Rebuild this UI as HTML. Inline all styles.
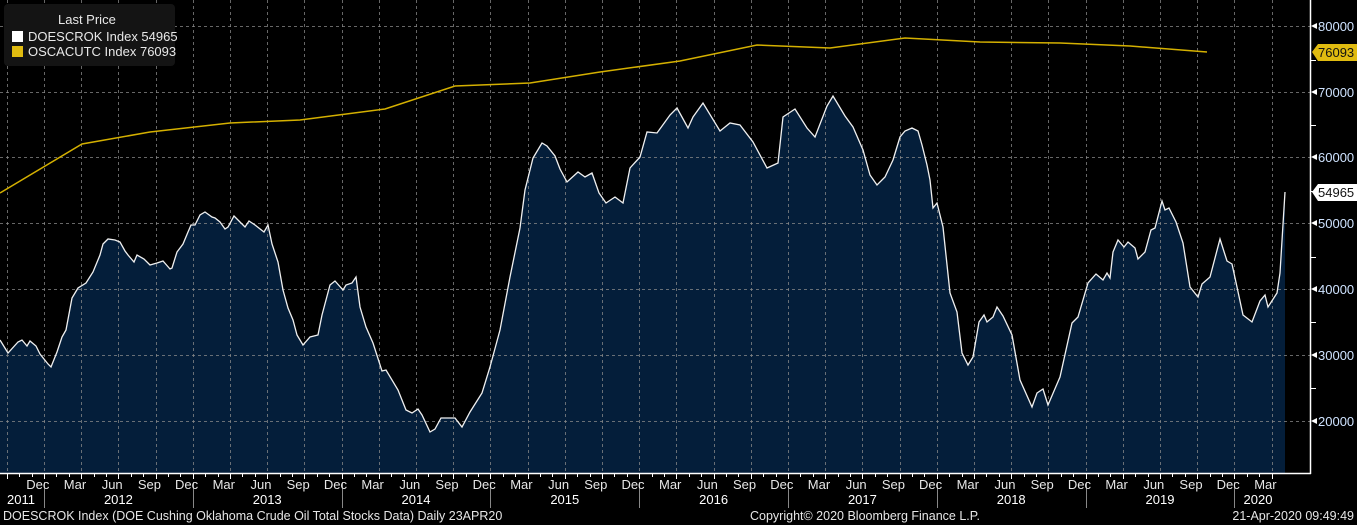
<!DOCTYPE html>
<html><head><meta charset="utf-8"><style>
html,body{margin:0;padding:0;background:#000;}
svg{display:block;font-family:"Liberation Sans",sans-serif;}
</style></head><body>
<svg width="1357" height="525" viewBox="0 0 1357 525" xmlns="http://www.w3.org/2000/svg">
<rect width="1357" height="525" fill="#000"/>
<!-- area -->
<path fill="#041e3a" d="M0,473 L0,340 L8,353 L18,342 L22,340 L27,346 L30,341 L36,346 L40,354 L48,364 L51,367 L57,352 L62,337 L66,330 L72,298 L78,288 L86,283 L93,272 L100,255 L103,244 L108,239 L115,240 L120,242 L125,251 L128,255 L134,262 L137,255 L144,259 L150,265 L157,263 L163,261 L170,269 L172,268 L177,252 L183,244 L188,232 L191,225 L195,225 L200,215 L205,212 L212,217 L215,218 L220,222 L225,229 L228,227 L234,216 L240,222 L245,227 L249,221 L255,225 L264,232 L268,225 L272,244 L278,262 L283,290 L288,308 L293,320 L297,335 L303,345 L310,337 L318,335 L322,315 L330,285 L335,281 L343,290 L346,285 L352,283 L356,277 L360,307 L366,327 L373,343 L382,371 L386,370 L398,390 L406,410 L412,413 L418,409 L422,415 L430,432 L435,429 L441,418 L455,418 L462,427 L470,412 L482,393 L490,367 L500,330 L510,277 L520,228 L525,190 L533,158 L542,143 L547,146 L555,156 L560,169 L567,182 L578,172 L585,177 L592,173 L599,193 L606,203 L615,197 L623,203 L630,168 L640,157 L647,132 L657,133 L670,115 L677,108 L688,128 L693,117 L703,103 L720,131 L730,123 L740,125 L753,142 L767,168 L778,163 L783,117 L795,109 L807,128 L815,137 L827,106 L833,96 L845,116 L853,127 L863,150 L870,175 L877,185 L885,177 L893,160 L900,137 L905,131 L912,128 L918,131 L922,145 L927,165 L930,180 L933,208 L937,203 L943,227 L950,293 L957,312 L962,353 L968,365 L973,357 L979,322 L984,315 L987,322 L993,317 L997,307 L1003,316 L1012,335 L1020,380 L1032,407 L1037,393 L1043,389 L1048,405 L1060,377 L1072,323 L1078,317 L1088,283 L1096,274 L1103,280 L1107,273 L1110,278 L1113,252 L1118,240 L1124,247 L1128,242 L1135,248 L1138,259 L1145,252 L1151,230 L1155,228 L1162,201 L1165,210 L1169,208 L1176,222 L1183,243 L1190,287 L1198,297 L1202,284 L1210,277 L1220,239 L1227,261 L1232,264 L1237,287 L1243,315 L1252,322 L1260,301 L1265,295 L1268,307 L1277,293 L1280,273 L1285,192 L1285,473 Z"/>
<!-- grid -->
<g stroke="#8a8a8a" stroke-width="1" stroke-dasharray="3,3" opacity="0.75">
<line x1="0" y1="26.5" x2="1310" y2="26.5"/><line x1="0" y1="92.5" x2="1310" y2="92.5"/>
<line x1="0" y1="157.5" x2="1310" y2="157.5"/><line x1="0" y1="223.5" x2="1310" y2="223.5"/>
<line x1="0" y1="289.5" x2="1310" y2="289.5"/><line x1="0" y1="355.5" x2="1310" y2="355.5"/>
<line x1="0" y1="421.5" x2="1310" y2="421.5"/>
</g>
<g id="vg" stroke="#8a8a8a" stroke-width="1" stroke-dasharray="3,3" opacity="0.75"></g>
<!-- series line -->
<polyline fill="none" stroke="#f0f0f0" stroke-width="1.3" points="0,340 8,353 18,342 22,340 27,346 30,341 36,346 40,354 48,364 51,367 57,352 62,337 66,330 72,298 78,288 86,283 93,272 100,255 103,244 108,239 115,240 120,242 125,251 128,255 134,262 137,255 144,259 150,265 157,263 163,261 170,269 172,268 177,252 183,244 188,232 191,225 195,225 200,215 205,212 212,217 215,218 220,222 225,229 228,227 234,216 240,222 245,227 249,221 255,225 264,232 268,225 272,244 278,262 283,290 288,308 293,320 297,335 303,345 310,337 318,335 322,315 330,285 335,281 343,290 346,285 352,283 356,277 360,307 366,327 373,343 382,371 386,370 398,390 406,410 412,413 418,409 422,415 430,432 435,429 441,418 455,418 462,427 470,412 482,393 490,367 500,330 510,277 520,228 525,190 533,158 542,143 547,146 555,156 560,169 567,182 578,172 585,177 592,173 599,193 606,203 615,197 623,203 630,168 640,157 647,132 657,133 670,115 677,108 688,128 693,117 703,103 720,131 730,123 740,125 753,142 767,168 778,163 783,117 795,109 807,128 815,137 827,106 833,96 845,116 853,127 863,150 870,175 877,185 885,177 893,160 900,137 905,131 912,128 918,131 922,145 927,165 930,180 933,208 937,203 943,227 950,293 957,312 962,353 968,365 973,357 979,322 984,315 987,322 993,317 997,307 1003,316 1012,335 1020,380 1032,407 1037,393 1043,389 1048,405 1060,377 1072,323 1078,317 1088,283 1096,274 1103,280 1107,273 1110,278 1113,252 1118,240 1124,247 1128,242 1135,248 1138,259 1145,252 1151,230 1155,228 1162,201 1165,210 1169,208 1176,222 1183,243 1190,287 1198,297 1202,284 1210,277 1220,239 1227,261 1232,264 1237,287 1243,315 1252,322 1260,301 1265,295 1268,307 1277,293 1280,273 1285,192"/>
<polyline fill="none" stroke="#d4b000" stroke-width="1.5" points="0,193 82,144 150,132 230,123 300,120 385,109 455,86 530,83 600,72 680,61 757,45 830,48 905,38 980,42 1060,43 1130,46 1207,52"/>
<!-- axes -->
<line x1="1310.5" y1="0" x2="1310.5" y2="474" stroke="#fff" stroke-width="1.5"/>
<line x1="0" y1="473.5" x2="1311" y2="473.5" stroke="#fff" stroke-width="1.5"/>
<g id="ticks" stroke="#fff" stroke-width="1"></g>
<g id="rt" stroke="#fff" stroke-width="1"></g>
<g fill="#cfe3ff" font-size="13">
<text x="1318" y="31">80000</text><text x="1318" y="97">70000</text><text x="1318" y="162">60000</text>
<text x="1318" y="228">50000</text><text x="1318" y="294">40000</text><text x="1318" y="360">30000</text><text x="1318" y="426">20000</text>
</g>
<g fill="#fff"><path d="M1311,26 L1317,23 L1317,29Z"/><path d="M1311,92 L1317,89 L1317,95Z"/><path d="M1311,157 L1317,154 L1317,160Z"/><path d="M1311,223 L1317,220 L1317,226Z"/><path d="M1311,289 L1317,286 L1317,292Z"/><path d="M1311,355 L1317,352 L1317,358Z"/><path d="M1311,421 L1317,418 L1317,424Z"/></g>
<path d="M1312,52 L1318,44 L1357,44 L1357,61 L1318,61Z" fill="#e0bb10"/>
<text x="1318" y="57" font-size="13" fill="#111">76093</text>
<path d="M1312,192 L1318,184 L1357,184 L1357,201 L1318,201Z" fill="#fff"/>
<text x="1318" y="197" font-size="13" fill="#111">54965</text>
<!-- legend -->
<rect x="4" y="4" width="171" height="62" rx="4" fill="#141414"/>
<text x="58" y="24" font-size="13" fill="#e8e8e8">Last Price</text>
<rect x="12" y="31" width="11" height="11" fill="#fff"/>
<text x="28" y="41" font-size="13" fill="#e8e8e8">DOESCROK Index 54965</text>
<rect x="12" y="46" width="11" height="11" fill="#e0bb10"/>
<text x="28" y="56" font-size="13" fill="#e8e8e8">OSCACUTC Index  76093</text>
<g id="ml" fill="#e6e6e6" font-size="13" text-anchor="middle"></g>
<g id="yl" fill="#fff" font-size="13" text-anchor="middle"></g>
<text x="3" y="520" font-size="12.5" fill="#e6e6e6">DOESCROK Index (DOE Cushing Oklahoma Crude Oil Total Stocks Data)  Daily 23APR20</text>
<text x="750" y="520" font-size="12.5" fill="#e6e6e6">Copyright© 2020 Bloomberg Finance L.P.</text>
<text x="1354" y="520" font-size="12.5" fill="#e6e6e6" text-anchor="end">21-Apr-2020 09:49:49</text>
</svg>
<script>
var NS="http://www.w3.org/2000/svg";
function el(p,t,a,txt){var e=document.createElementNS(NS,t);for(var k in a)e.setAttribute(k,a[k]);if(txt)e.textContent=txt;document.getElementById(p).appendChild(e);}
var x0=44,py=148.8,m=py/12;
for(var i=-1;i<34;i++){var x=Math.round(x0+i*py/4)+0.5;if(x>0&&x<1310)el("vg","line",{x1:x,y1:0,x2:x,y2:473});}
for(var j=-3;j<100;j++){var x=Math.round(x0+j*m)+0.5;if(x<0||x>1310)continue;el("ticks","line",{x1:x,y1:474,x2:x,y2:(j%3==0?479:477)});}
var names=["Dec","Mar","Jun","Sep"];
for(var q=0;q<34;q++){var mi=-1+q*3;var x=x0+(mi+0.5)*m;if(x>1300)break;el("ml","text",{x:x,y:489},names[q%4]);}
for(var y=0;y<9;y++){var x=Math.round(x0+y*py)+0.5;el("ticks","line",{x1:x,y1:482,x2:x,y2:508,stroke:"#888"});}
el("yl","text",{x:21,y:504},"2011");
for(var y=0;y<9;y++){var x=x0+y*py+py*0.5;if(y==8)x=1258;el("yl","text",{x:x,y:504},String(2012+y));}
for(var v=25000;v<=75000;v+=10000){var yy=Math.round(421-(v-20000)/10000*65.67)+0.5;el("rt","line",{x1:1311,y1:yy,x2:1316,y2:yy});}
</script>
</body></html>
